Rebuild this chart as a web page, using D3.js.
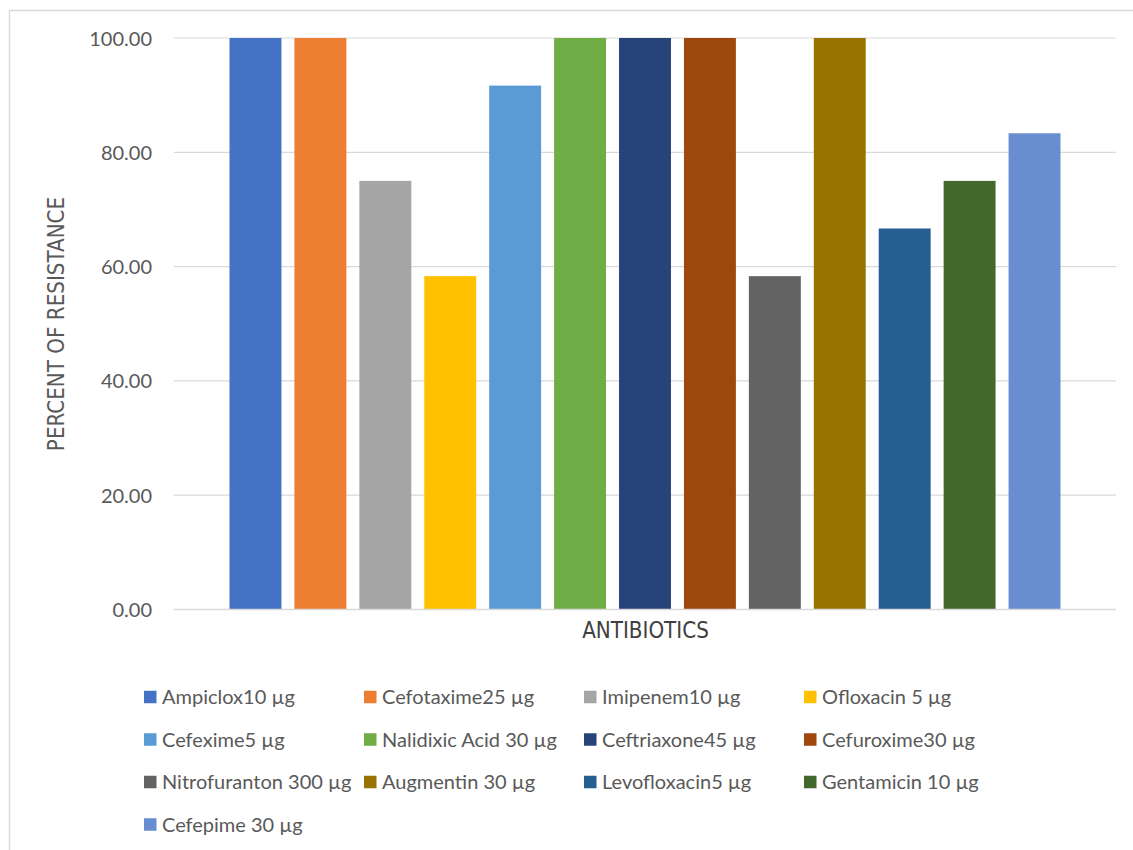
<!DOCTYPE html>
<html><head><meta charset="utf-8">
<script src="https://cdn.jsdelivr.net/npm/d3@7"></script>
<style>
html,body{margin:0;padding:0;background:#fff;}
svg{display:block;}
</style></head>
<body>
<svg id="chart" width="1133" height="850"></svg>
<script>
const antibiotics = ["Ampiclox10 µg","Cefotaxime25 µg","Imipenem10 µg","Ofloxacin 5 µg","Cefexime5 µg","Nalidixic Acid 30 µg","Ceftriaxone45 µg","Cefuroxime30 µg","Nitrofuranton 300 µg","Augmentin 30 µg","Levofloxacin5 µg","Gentamicin 10 µg","Cefepime 30 µg"];
const resistance = [100, 100, 75, 58.33, 91.67, 100, 100, 100, 58.33, 100, 66.67, 75, 83.33];
const colors = ["#4472C4","#ED7D31","#A5A5A5","#FFC000","#5B9BD5","#70AD47","#264478","#9E480E","#636363","#997300","#255E91","#43682B","#698ED0"];
const yTicks = [0, 20, 40, 60, 80, 100];
const yTitle = "PERCENT OF RESISTANCE";
const xTitle = "ANTIBIOTICS";

const svg = d3.select("#chart");
const textColor = "#595959";

// chart border
svg.append("rect").attr("x",9.5).attr("y",10.5).attr("width",1200).attr("height",900)
  .attr("fill","none").attr("stroke","#d9d9d9").attr("stroke-width",1.5);

const x = d3.scaleBand().domain(antibiotics).range([174,1116]).paddingInner(0.2).paddingOuter(0.855);
const y = d3.scaleLinear().domain([0,100]).range([609.5,38]);

// gridlines
svg.append("g").selectAll("line").data(yTicks).join("line")
  .attr("x1",174).attr("x2",1116)
  .attr("y1",d=>y(d)).attr("y2",d=>y(d))
  .attr("stroke","#d9d9d9").attr("stroke-width",1.2);

// y axis labels
const yAxis = d3.axisLeft(y).tickValues(yTicks).tickFormat(d3.format(".2f")).tickSize(0).tickPadding(0);
const ga = svg.append("g").attr("transform","translate(152,0)").call(yAxis);
ga.select(".domain").remove();
ga.selectAll("text").attr("fill",textColor).style("font-family","Lato, 'Liberation Sans', sans-serif").style("font-size","20px").attr("dy","0.35em");

// bars
svg.append("g").selectAll("rect").data(antibiotics).join("rect")
  .attr("x",d=>x(d)).attr("width",x.bandwidth())
  .attr("y",(d,i)=>y(resistance[i])).attr("height",(d,i)=>y(0)-y(resistance[i]))
  .attr("fill",(d,i)=>colors[i]);

// baseline
svg.append("line").attr("x1",174).attr("x2",1116).attr("y1",y(0)).attr("y2",y(0))
  .attr("stroke","#d9d9d9").attr("stroke-width",1.5);

// axis titles
const titleFont = "'Liberation Sans Narrow', 'DejaVu Sans Condensed', sans-serif";
svg.append("text").attr("transform","translate(64,324) rotate(-90)")
  .attr("text-anchor","middle").attr("fill",textColor)
  .style("font-family",titleFont).style("font-size","22.2px").text(yTitle);
svg.append("text").attr("x",645.5).attr("y",637.5)
  .attr("text-anchor","middle").attr("fill","#404040")
  .style("font-family",titleFont).style("font-size","22.2px").text(xTitle);

// legend
const colX = d3.scalePoint().domain([0,1,2,3]).range([144,804]);
const rowY = d3.scalePoint().domain([0,1,2,3]).range([697,824.5]);
const lg = svg.append("g").selectAll("g").data(antibiotics).join("g")
  .attr("transform",(d,i)=>`translate(${colX(i%4)},${rowY(Math.floor(i/4))})`);
lg.append("rect").attr("x",0).attr("y",-6.25).attr("width",12.5).attr("height",12.5).attr("fill",(d,i)=>colors[i]);
lg.append("text").attr("x",18).attr("dy","0.35em").attr("fill",textColor)
  .style("font-family","Lato, 'Liberation Sans', sans-serif").style("font-size","20px").text(d=>d);
</script>
</body></html>
